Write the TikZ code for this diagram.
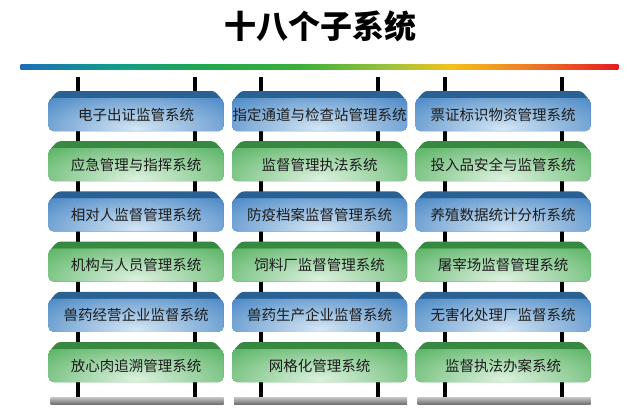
\documentclass[tikz,border=0pt]{standalone}
\usepackage{fontspec}
\newfontfamily\cjk{Noto Sans CJK SC}
\usetikzlibrary{calc}
\definecolor{bluetop}{HTML}{2A6193}
\definecolor{blueedge}{HTML}{3A7DC0}
\definecolor{bluelight}{HTML}{D3E5F4}
\definecolor{greentop}{HTML}{378841}
\definecolor{greenedge}{HTML}{4AAC56}
\definecolor{greenlight}{HTML}{DCF1DE}
\definecolor{txt}{HTML}{1C1C1C}
\definecolor{gA}{HTML}{1E6EB6}
\definecolor{gB}{HTML}{109C8E}
\definecolor{gC}{HTML}{1FA650}
\definecolor{gD}{HTML}{3BAF3A}
\definecolor{gE}{HTML}{9DC33A}
\definecolor{gF}{HTML}{F4C21B}
\definecolor{gG}{HTML}{EF7A26}
\definecolor{gH}{HTML}{E31B23}
\tikzset{
  titletext/.style={font=\cjk\bfseries\fontsize{32}{36}\selectfont, text=black, inner sep=0},
  boxtext/.style={font=\cjk\fontsize{14.5}{16}\selectfont, text=txt, inner sep=0},
  post/.style={line width=4pt, black},
  graybar/.style={top color=black!22, bottom color=black!55},
}
\def\hw{87.5}
\newcommand\platbox[5]{%
  \pgfmathsetmacro\yt{91+50.2*#3}%
  \fill[#4top, rounded corners=3] ({#2-\hw+1},{\yt+9}) -- ({#2-\hw+9},\yt) -- ({#2+\hw-9},\yt) -- ({#2+\hw-1},{\yt+9}) -- cycle;
  \path[fill=#4edge, rounded corners=5,
    path picture={\fill[inner color=#4light, outer color=#4edge]
      ($(path picture bounding box.south)+(0,-3)$) ellipse (140 and 48);}]
    ({#2-\hw},{\yt+7}) rectangle ({#2+\hw},{\yt+40});
  \node[boxtext] (#1) at (#2,{\yt+23.5}) {#5};
}
\begin{document}
\begin{tikzpicture}[x=1pt,y=-1pt]
\useasboundingbox[fill=white] (0,0) rectangle (640,413);
\node[titletext] (title) at (320,26) {十八个子系统};
% rainbow rule
\foreach \xa/\xb/\ca/\cb in {21/110/gA/gB,110/200/gB/gC,200/300/gC/gD,300/390/gD/gE,390/450/gE/gF,450/530/gF/gG,530/618/gG/gH}{
  \shade[left color=\ca, right color=\cb] (\xa-0.3,64.8) rectangle (\xb+0.3,69.4);
}
% posts
\foreach \cx [count=\c] in {136,319.5,503}{
  \foreach \s [count=\k] in {-58.5,58.5}{
    \coordinate (pt\c\k) at ({\cx+\s},77);
    \coordinate (pb\c\k) at ({\cx+\s},397);
    \draw[post] (pt\c\k) -- (pb\c\k);
  }
  \shade[graybar] ({\cx-\hw+2},397) rectangle ({\cx+\hw},404);
}
% column 1
\platbox{a0}{136}{0}{blue}{电子出证监管系统}
\platbox{a1}{136}{1}{green}{应急管理与指挥系统}
\platbox{a2}{136}{2}{blue}{相对人监督管理系统}
\platbox{a3}{136}{3}{green}{机构与人员管理系统}
\platbox{a4}{136}{4}{blue}{兽药经营企业监督系统}
\platbox{a5}{136}{5}{green}{放心肉追溯管理系统}
% column 2
\platbox{b0}{319.5}{0}{blue}{指定通道与检查站管理系统}
\platbox{b1}{319.5}{1}{green}{监督管理执法系统}
\platbox{b2}{319.5}{2}{blue}{防疫档案监督管理系统}
\platbox{b3}{319.5}{3}{green}{饲料厂监督管理系统}
\platbox{b4}{319.5}{4}{blue}{兽药生产企业监督系统}
\platbox{b5}{319.5}{5}{green}{网格化管理系统}
% column 3
\platbox{c0}{503}{0}{blue}{票证标识物资管理系统}
\platbox{c1}{503}{1}{green}{投入品安全与监管系统}
\platbox{c2}{503}{2}{blue}{养殖数据统计分析系统}
\platbox{c3}{503}{3}{green}{屠宰场监督管理系统}
\platbox{c4}{503}{4}{blue}{无害化处理厂监督系统}
\platbox{c5}{503}{5}{green}{监督执法办案系统}
\end{tikzpicture}
\end{document}
